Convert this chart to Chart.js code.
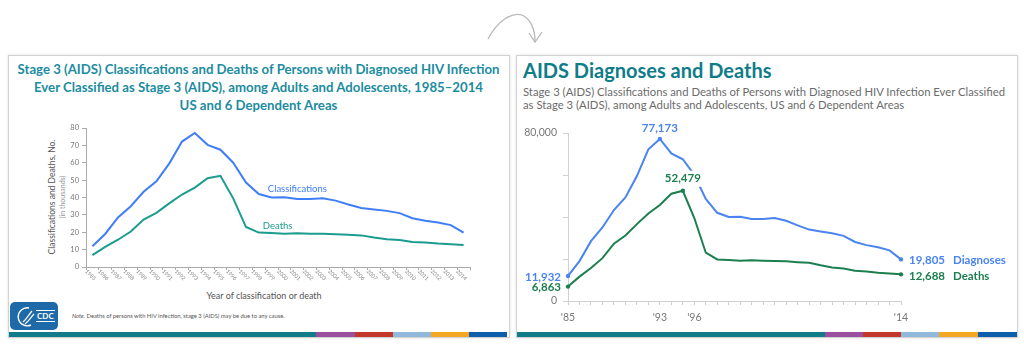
<!DOCTYPE html>
<html lang="en">
<head>
<meta charset="UTF-8"/>
<title>AIDS Diagnoses and Deaths</title>
<script src="https://cdn.jsdelivr.net/npm/chart.js"></script>
<style>
  body { margin: 0; width: 1024px; height: 361px; background: #fff; position: relative; overflow: hidden;
    font-family: Lato, "Open Sans", sans-serif; }
  .panel { position: absolute; top: 55px; height: 283px; box-sizing: border-box; border: 1px solid #d2d2d2;
    box-shadow: 0 0 3px rgba(0,0,0,0.12); background: #fff; }
  .bar { position: absolute; top: 332px; height: 5px; display: flex; }
  .bar div { height: 100%; }
  canvas { position: absolute; }
  .abs { position: absolute; white-space: nowrap; }
  .ltitle { left: 9px; width: 499px; top: 60px; text-align: center; font-weight: bold; font-size: 13.2px;
    line-height: 18px; color: #1c8ca0; }
  .rtitle { left: 523px; top: 58px; font-weight: bold; font-size: 20px; line-height: 24px; color: #0e7c89; }
  .rsub { left: 523px; top: 86px; font-size: 11.3px; line-height: 12.5px; color: #6b6b6b; }
  .ytitle { width: 170px; text-align: center; transform: rotate(-90deg); color: #555; }
  .xtitle { left: 164px; width: 200px; top: 290px; text-align: center; font-size: 9px; color: #555; }
  .note { left: 72px; top: 312px; font-size: 5.8px; color: #555; }
  .logo { left: 10px; top: 302px; width: 48px; height: 28px; background: #1e69a7; border-radius: 5px; }
  .logo span { position: absolute; left: 26px; top: 8px; font: bold 8px Lato; color: #fff;
    border-top: 1px solid #fff; border-bottom: 1px solid #fff; line-height: 10px; padding: 0 1px; }
</style>
</head>
<body>

<svg class="abs" style="left:0;top:0" width="1024" height="60">
  <path d="M488,39 C498,20 512,12 522,15 C531,19 535,30 535,41" fill="none" stroke="#b8b8b8" stroke-width="1.3"/>
  <path d="M529,33 L535,42 L542,32" fill="none" stroke="#b8b8b8" stroke-width="1.3"/>
</svg>

<div class="panel" style="left:8px; width:502px;"></div>
<div class="panel" style="left:516px; width:502px;"></div>

<div class="abs ltitle">Stage 3 (AIDS) Classifications and Deaths of Persons with Diagnosed HIV Infection<br/>Ever Classified as Stage 3 (AIDS), among Adults and Adolescents, 1985–2014<br/>US and 6 Dependent Areas</div>

<div class="abs ytitle" style="left:-33px; top:191px; font-size:8.5px; line-height:12px;">Classifications and Deaths, No.</div>
<div class="abs ytitle" style="left:-23px; top:192px; font-size:7px; line-height:10px; color:#999;">(in thousands)</div>
<div class="abs xtitle">Year of classification or death</div>

<div class="abs logo">
  <svg width="48" height="28" style="position:absolute;left:0;top:0">
    <path d="M19,6 A9,9 0 1,0 21,23" fill="none" stroke="#fff" stroke-width="1.4"/>
    <path d="M13,20 C17,17 19,12 22,9 M15,22 C19,19 21,15 24,12" fill="none" stroke="#fff" stroke-width="1.2"/>
  </svg>
  <span>CDC</span>
</div>
<div class="abs note"><i>Note.</i> Deaths of persons with HIV infection, stage 3 (AIDS) may be due to any cause.</div>

<div class="abs rtitle">AIDS Diagnoses and Deaths</div>
<div class="abs rsub">Stage 3 (AIDS) Classifications and Deaths of Persons with Diagnosed HIV Infection Ever Classified<br/>as Stage 3 (AIDS), among Adults and Adolescents, US and 6 Dependent Areas</div>

<div class="bar" style="left:9px;">
  <div style="width:307px;background:#0f7c87"></div><div style="width:39px;background:#9b4f9f"></div>
  <div style="width:38px;background:#c4382c"></div><div style="width:38px;background:#92b9dc"></div>
  <div style="width:38px;background:#f5a623"></div><div style="width:38px;background:#0d5fab"></div>
</div>
<div class="bar" style="left:517px;">
  <div style="width:308px;background:#0f7c87"></div><div style="width:38px;background:#9b4f9f"></div>
  <div style="width:38px;background:#c4382c"></div><div style="width:38px;background:#92b9dc"></div>
  <div style="width:39px;background:#f5a623"></div><div style="width:39px;background:#0d5fab"></div>
</div>

<canvas id="leftChart" width="497" height="172" style="left:9px; top:118px;"></canvas>
<canvas id="rightChart" width="499" height="215" style="left:517px; top:115px;"></canvas>

<script>
  const years = [1985, 1986, 1987, 1988, 1989, 1990, 1991, 1992, 1993, 1994,
                 1995, 1996, 1997, 1998, 1999, 2000, 2001, 2002, 2003, 2004,
                 2005, 2006, 2007, 2008, 2009, 2010, 2011, 2012, 2013, 2014];
  const diagnoses = [11932, 19000, 28500, 35000, 43300, 49300, 59500, 72200, 77173, 70300,
                     67500, 60000, 48600, 42000, 40000, 40100, 39100, 39100, 39500, 38200,
                     36000, 34000, 33100, 32300, 31000, 28100, 26600, 25600, 24100, 19805];
  const deaths = [6863, 11600, 15700, 20400, 27300, 31200, 36600, 41700, 45700, 51100,
                  52479, 39500, 23000, 19800, 19500, 19200, 19400, 19200, 19100, 18900,
                  18500, 18200, 17000, 16000, 15500, 14400, 14100, 13500, 13100, 12688];
  const shownYears = [1985, 1993, 1996, 2014];
  const diagHighlights = [0, 8, 29];
  const deathHighlights = [0, 10, 29];

  Chart.defaults.font.family = 'Lato, "Open Sans", sans-serif';

  // left slide: rotated year labels and series names
  const leftLabels = {
    id: 'leftLabels',
    afterDraw(chart) {
      const { ctx, chartArea, scales: { x, y } } = chart;
      ctx.save();
      ctx.fillStyle = '#888';
      ctx.font = '5.5px Lato';
      ctx.textAlign = 'center';
      ctx.textBaseline = 'middle';
      years.forEach((yr, i) => {
        ctx.save();
        ctx.translate(x.getPixelForValue(i) - 2, chartArea.bottom + 8);
        ctx.rotate(Math.PI / 4);
        ctx.fillText(String(yr), 0, 0);
        ctx.restore();
      });
      ctx.font = '9.5px Lato';
      ctx.textAlign = 'left';
      ctx.fillStyle = '#3f7ef6';
      ctx.fillText('Classifications', x.getPixelForValue(13) + 9, y.getPixelForValue(45));
      ctx.fillStyle = '#1a9c8e';
      ctx.fillText('Deaths', x.getPixelForValue(13) + 4, y.getPixelForValue(23.6));
      ctx.restore();
    }
  };

  new Chart(document.getElementById('leftChart'), {
    type: 'line',
    data: {
      labels: years.map(String),
      datasets: [
        { label: 'Classifications', data: diagnoses.map(v => v / 1000), borderColor: '#3f7ef6',
          borderWidth: 2, pointRadius: 0, tension: 0 },
        { label: 'Deaths', data: deaths.map(v => v / 1000), borderColor: '#1a9c8e',
          borderWidth: 2, pointRadius: 0, tension: 0 }
      ]
    },
    options: {
      responsive: false,
      animation: false,
      layout: { padding: { top: 10, right: 36, left: 0, bottom: 0 } },
      plugins: { legend: { display: false }, tooltip: { enabled: false } },
      scales: {
        x: {
          offset: true,
          grid: { offset: true, drawOnChartArea: false, tickLength: 3, color: '#aaa' },
          border: { color: '#aaa' },
          ticks: { display: false },
          afterFit(s) { s.height = 23; }
        },
        y: {
          min: 0, max: 80,
          ticks: { stepSize: 10, color: '#777', font: { size: 7.5 }, padding: 3 },
          grid: { drawOnChartArea: false, tickLength: 4, color: '#aaa' },
          border: { color: '#aaa' },
          afterFit(s) { s.width = 77; }
        }
      }
    },
    plugins: [leftLabels]
  });

  // right slide: value callouts
  const callouts = [
    { ds: 0, i: 0, align: 'right', dx: -7, dy: 1, color: '#4a84f0' },
    { ds: 1, i: 0, align: 'right', dx: -7, dy: 1, color: '#1c7f4f' },
    { ds: 0, i: 8, align: 'center', dx: 0, dy: -11, color: '#4a84f0' },
    { ds: 1, i: 10, align: 'center', dx: 0, dy: -12, color: '#1c7f4f', box: true },
    { ds: 0, i: 29, align: 'left', dx: 8, dy: 1, color: '#4a84f0', name: 'Diagnoses' },
    { ds: 1, i: 29, align: 'left', dx: 8, dy: 2, color: '#1c7f4f', name: 'Deaths' }
  ];

  const rightLabels = {
    id: 'rightLabels',
    afterDatasetsDraw(chart) {
      const { ctx, scales: { x, y } } = chart;
      ctx.save();
      ctx.font = 'bold 11.5px Lato';
      ctx.textBaseline = 'middle';
      callouts.forEach(c => {
        const val = chart.data.datasets[c.ds].data[c.i];
        const txt = val.toLocaleString('en-US');
        const px = x.getPixelForValue(c.i) + c.dx;
        const py = y.getPixelForValue(val) + c.dy;
        const w = ctx.measureText(txt).width;
        if (c.box) {
          ctx.fillStyle = '#fff';
          ctx.fillRect(px - w / 2 - 4, py - 8, w + 8, 16);
        }
        ctx.fillStyle = c.color;
        ctx.textAlign = c.align;
        ctx.fillText(txt, px, py);
        if (c.name) {
          ctx.textAlign = 'left';
          ctx.fillText(c.name, px + w + 8, py);
        }
      });
      ctx.restore();
    }
  };

  const radii = (hl) => years.map((_, i) => hl.includes(i) ? 2.2 : 0);

  new Chart(document.getElementById('rightChart'), {
    type: 'line',
    data: {
      labels: years.map(String),
      datasets: [
        { label: 'Diagnoses', data: diagnoses, borderColor: '#4a84f0', backgroundColor: '#4a84f0',
          borderWidth: 2, pointRadius: radii(diagHighlights), pointBorderWidth: 0, tension: 0 },
        { label: 'Deaths', data: deaths, borderColor: '#1c7f4f', backgroundColor: '#1c7f4f',
          borderWidth: 2, pointRadius: radii(deathHighlights), pointBorderWidth: 0, tension: 0 }
      ]
    },
    options: {
      responsive: false,
      animation: false,
      layout: { padding: { top: 18, right: 115, left: 0, bottom: 0 } },
      plugins: { legend: { display: false }, tooltip: { enabled: false } },
      scales: {
        x: {
          grid: { drawOnChartArea: false, tickLength: 4, color: '#d0d0d0' },
          border: { color: '#d0d0d0' },
          ticks: {
            autoSkip: false, maxRotation: 0, color: '#777', font: { size: 10.5 }, padding: 6,
            callback: (v, i) => shownYears.includes(years[i]) ? "'" + String(years[i]).slice(2) : ''
          },
          afterFit(s) { s.height = 29; }
        },
        y: {
          min: 0, max: 80000,
          ticks: {
            stepSize: 20000, color: '#777', font: { size: 10.5 }, padding: 6,
            callback: v => (v === 0 || v === 80000) ? v.toLocaleString('en-US') : ''
          },
          grid: { drawOnChartArea: false, tickLength: 5, color: '#d0d0d0' },
          border: { color: '#d0d0d0' },
          afterFit(s) { s.width = 51; }
        }
      }
    },
    plugins: [rightLabels]
  });
</script>
</body>
</html>
